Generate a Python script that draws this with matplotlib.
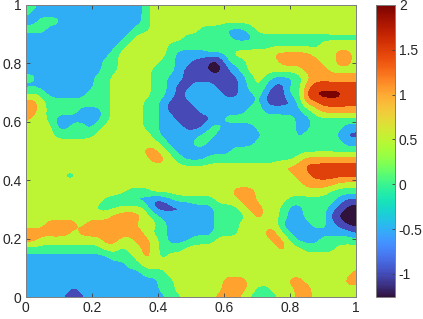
import numpy as np
import matplotlib
matplotlib.use("Agg")
import matplotlib.pyplot as plt
from matplotlib.cm import ScalarMappable
from matplotlib.colors import Normalize

plt.rcParams['font.family'] = ['Liberation Sans', 'DejaVu Sans']

# field, top row first: each token = band digit + run length
FIELD_ROWS = [
"32 213 31 426",
"31 214 31 426",
"22 33 210 31 426",
"33 211 32 46 33 23 31 413",
"213 31 46 36 23 313",
"212 31 45 35 42 312 45",
"211 31 46 31 26 31 45 55 43 52 41",
"210 32 45 32 22 12 02 21 32 44 55 42 52 41",
"210 32 44 33 21 13 02 11 21 31 47 53 44",
"32 27 32 45 32 22 17 21 31 41 31 23 31 41 56",
"29 32 45 32 21 12 23 13 21 31 41 21 12 32 51 66",
"31 41 31 25 33 45 32 21 11 25 12 22 31 13 32 61 74 62",
"52 41 38 44 32 21 13 28 31 14 31 52 65",
"52 41 34 23 31 44 32 21 14 26 32 25 31 41 55",
"51 42 31 26 31 44 32 22 15 21 39 22 36",
"44 22 32 21 31 45 32 23 13 32 24 35 22 34 22",
"44 35 47 31 25 32 26 34 21 34 21 12",
"417 31 23 32 26 311 22",
"415 52 41 31 27 316",
"416 52 41 31 23 311 41 57",
"432 53 67",
"45 32 427 52 66",
"435 54 43",
"413 33 410 53 49 34",
"410 32 24 12 21 35 43 52 44 36 21 12",
"49 33 43 31 15 23 33 41 52 42 31 22 33 21 11 02",
"411 54 41 31 27 34 41 51 42 31 22 33 11 03",
"43 54 41 56 43 31 23 31 22 33 45 24 32 21 11 02",
"56 41 58 41 32 26 33 43 52 31 28 11",
"52 48 52 42 52 41 31 23 33 47 52 31 23 35",
"310 42 31 42 51 41 33 412 51 42 34 43",
"211 33 41 51 41 31 424",
"213 32 427",
"215 33 423 51",
"217 32 46 53 45 52 45 52",
"26 11 210 32 46 53 41 32 43 52 46",
"25 13 210 32 44 53 41 34 42 52 46",
]
BAND_VALUES = [-1.10, -0.67, -0.24, 0.19, 0.62, 1.05, 1.48, 1.91]
BAND_EDGES = [-1.26, -0.885, -0.455, -0.025, 0.405, 0.835, 1.265, 1.695, 2.0]
BAND_COLORS = ['#30123B', '#4649B6', '#2FAEF5', '#3CF58F', '#BDF535', '#FFA22E', '#E0400A', '#7A0403']
XTICKS = [0, 0.2, 0.4, 0.6, 0.8, 1]
YTICKS = [0, 0.2, 0.4, 0.6, 0.8, 1]
CBAR_TICKS = [-1, -0.5, 0, 0.5, 1, 1.5, 2]
VMIN, VMAX = -1.26, 2.0

rows = []
for r in FIELD_ROWS:
    row = []
    for tok in r.split():
        row += [BAND_VALUES[int(tok[0])]] * int(tok[1:])
    assert len(row) == 42, r
    rows.append(row)
Z = np.array(rows)[::-1]
ny, nx = Z.shape
x = np.linspace(0, 1, nx)
y = np.linspace(0, 1, ny)

# resample finer and soften so that contours are curved
up = 5
xf = np.linspace(0, 1, (nx - 1) * up + 1)
yf = np.linspace(0, 1, (ny - 1) * up + 1)
Zf = np.array([np.interp(xf, x, r) for r in Z])
Zf = np.array([np.interp(yf, y, c) for c in Zf.T]).T
k = np.array([1, 4, 6, 4, 1.]) / 16
for _ in range(6):
    P = np.pad(Zf, 2, mode='edge')
    P = np.apply_along_axis(lambda v: np.convolve(v, k, mode='same'), 0, P)
    P = np.apply_along_axis(lambda v: np.convolve(v, k, mode='same'), 1, P)
    Zf = P[2:-2, 2:-2]

W, H = 423, 319
fig = plt.figure(figsize=(W / 100, H / 100), dpi=100)
ax = fig.add_axes([25.7 / W, (H - 297.3) / H, 330 / W, 292.3 / H])
cmap = plt.get_cmap('turbo')
ax.contourf(xf, yf, Zf, levels=BAND_EDGES, colors=BAND_COLORS, extend='neither')
ax.set_facecolor(BAND_COLORS[0])
ax.set_xlim(0, 1)
ax.set_ylim(0, 1)
ax.set_xticks(XTICKS, [f"{v:g}" for v in XTICKS])
ax.set_yticks(YTICKS, [f"{v:g}" for v in YTICKS])
ax.tick_params(direction='in', top=True, right=True, length=3, width=0.6,
               color='#404040', labelcolor='#262626', labelsize=10, pad=3)
for s in ax.spines.values():
    s.set_color('#808080')
    s.set_linewidth(0.7)

cax = fig.add_axes([376 / W, (H - 297.3) / H, 18.7 / W, 292.3 / H])
cb = fig.colorbar(ScalarMappable(Normalize(VMIN, VMAX), cmap), cax=cax)
cb.set_ticks(CBAR_TICKS, labels=[f"{v:g}" for v in CBAR_TICKS])
cax.tick_params(direction='in', right=True, length=2.5, width=0.6,
                color='#404040', labelcolor='#262626', labelsize=10, pad=3)
cb.outline.set_edgecolor('#808080')
cb.outline.set_linewidth(0.7)

fig.savefig('out.png', dpi=100)
